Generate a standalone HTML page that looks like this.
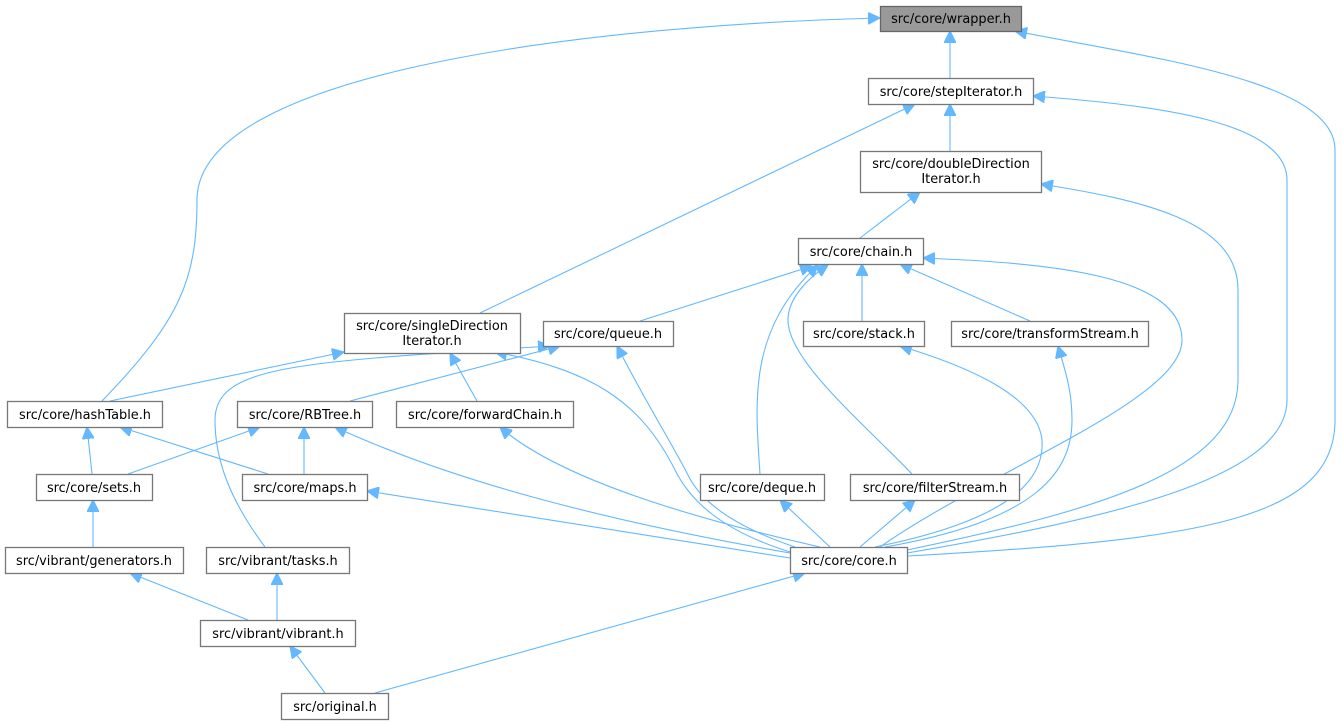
<!DOCTYPE html>
<html><head><meta charset="utf-8"><style>
html,body{margin:0;padding:0;background:#fff;}
svg{display:block;}
text{font-family:"DejaVu Sans","Liberation Sans",sans-serif;font-size:12.9px;fill:#000;text-anchor:middle;}
.n{fill:#fff;stroke:#777;stroke-width:1.3;}
.e{fill:none;stroke:#63b8ff;stroke-width:1.1;}
</style></head><body>
<svg width="1343" height="725" viewBox="0 0 1343 725" xmlns="http://www.w3.org/2000/svg">
<defs><marker id="a" viewBox="0 0 10 10" refX="10" refY="5" markerWidth="12" markerHeight="12" markerUnits="userSpaceOnUse" orient="auto"><path d="M0,0 L10,5 L0,10 z" fill="#63b8ff" stroke="#63b8ff"/></marker></defs>
<g marker-end="url(#a)">
<path class="e" d="M950,78 L950,31"/>
<path class="e" d="M102,401 C180,320 197,280 197,200 C197,70 600,25 880,18"/>
<path class="e" d="M907,556 C1200,540 1335,520 1335,420 L1335,150 C1335,80 1150,58 1015,31"/>
<path class="e" d="M950,151 L950,104"/>
<path class="e" d="M480,313 L915,104"/>
<path class="e" d="M907,553 C1100,520 1287,480 1287,400 L1287,180 C1287,120 1150,105 1033,96"/>
<path class="e" d="M860,238 L920,192"/>
<path class="e" d="M907,550 C1100,510 1238,470 1238,380 L1238,290 C1238,220 1140,200 1041,184"/>
<path class="e" d="M640,321 L812,266"/>
<path class="e" d="M862,321 L862,264"/>
<path class="e" d="M1030,321 L900,264"/>
<path class="e" d="M760,474 C755,400 748,330 818,265"/>
<path class="e" d="M912,474 C860,420 788,360 788,320 C788,300 805,280 828,265"/>
<path class="e" d="M880,547 C990,470 1182,400 1182,340 C1182,275 1050,263 923,258"/>
<path class="e" d="M110,401 L344,352"/>
<path class="e" d="M477,401 L450,353"/>
<path class="e" d="M790,552 C720,530 690,500 675,470 C640,400 590,370 495,352"/>
<path class="e" d="M795,547 C730,525 700,500 688,475 C670,440 650,410 617,346"/>
<path class="e" d="M350,401 L560,346"/>
<path class="e" d="M265,547 C230,500 215,460 215,420 C215,365 300,362 550,346"/>
<path class="e" d="M92,474 L87,427"/>
<path class="e" d="M268,474 L120,427"/>
<path class="e" d="M128,474 L260,427"/>
<path class="e" d="M304,474 L304,427"/>
<path class="e" d="M790,553 C600,520 450,480 335,427"/>
<path class="e" d="M820,547 C700,520 560,480 500,427"/>
<path class="e" d="M790,558 L367,491"/>
<path class="e" d="M830,547 L780,500"/>
<path class="e" d="M860,547 L915,500"/>
<path class="e" d="M875,547 C1010,520 1045,480 1042,440 C1038,400 980,370 900,346"/>
<path class="e" d="M885,547 C1040,520 1072,470 1072,420 C1072,390 1065,370 1058,346"/>
<path class="e" d="M93,547 L93,500"/>
<path class="e" d="M277,620 L277,573"/>
<path class="e" d="M248,620 L130,573"/>
<path class="e" d="M325,693 L290,646"/>
<path class="e" d="M375,693 L805,573"/>
</g>
<rect x="880.5" y="6.5" width="141" height="25" fill="#999" stroke="#666" stroke-width="1.3"/><text x="951" y="23">src/core/wrapper.h</text>
<rect class="n" x="868.5" y="78.5" width="165" height="26"/><text x="951" y="96">src/core/stepIterator.h</text>
<rect class="n" x="860.5" y="151.5" width="181" height="41"/><text x="951" y="168">src/core/doubleDirection</text><text x="951" y="183">Iterator.h</text>
<rect class="n" x="798.5" y="238.5" width="125" height="26"/><text x="861" y="256">src/core/chain.h</text>
<rect class="n" x="344.5" y="313.5" width="176" height="40"/><text x="432" y="330">src/core/singleDirection</text><text x="432" y="345">Iterator.h</text>
<rect class="n" x="543.5" y="321.5" width="130" height="25"/><text x="608" y="338">src/core/queue.h</text>
<rect class="n" x="803.5" y="321.5" width="121" height="25"/><text x="864" y="338">src/core/stack.h</text>
<rect class="n" x="951.5" y="321.5" width="197" height="25"/><text x="1050" y="338">src/core/transformStream.h</text>
<rect class="n" x="7.5" y="401.5" width="155" height="26"/><text x="85" y="419">src/core/hashTable.h</text>
<rect class="n" x="237.5" y="401.5" width="135" height="26"/><text x="305" y="419">src/core/RBTree.h</text>
<rect class="n" x="396.5" y="401.5" width="177" height="26"/><text x="485" y="419">src/core/forwardChain.h</text>
<rect class="n" x="36.5" y="474.5" width="116" height="26"/><text x="94" y="492">src/core/sets.h</text>
<rect class="n" x="242.5" y="474.5" width="125" height="26"/><text x="305" y="492">src/core/maps.h</text>
<rect class="n" x="700.5" y="474.5" width="124" height="26"/><text x="762" y="492">src/core/deque.h</text>
<rect class="n" x="850.5" y="474.5" width="169" height="26"/><text x="935" y="492">src/core/filterStream.h</text>
<rect class="n" x="5.5" y="547.5" width="178" height="26"/><text x="94" y="565">src/vibrant/generators.h</text>
<rect class="n" x="206.5" y="547.5" width="143" height="26"/><text x="278" y="565">src/vibrant/tasks.h</text>
<rect class="n" x="790.5" y="547.5" width="117" height="26"/><text x="849" y="565">src/core/core.h</text>
<rect class="n" x="200.5" y="620.5" width="155" height="26"/><text x="278" y="638">src/vibrant/vibrant.h</text>
<rect class="n" x="281.5" y="693.5" width="107" height="26"/><text x="335" y="711">src/original.h</text>
</svg>
</body></html>
